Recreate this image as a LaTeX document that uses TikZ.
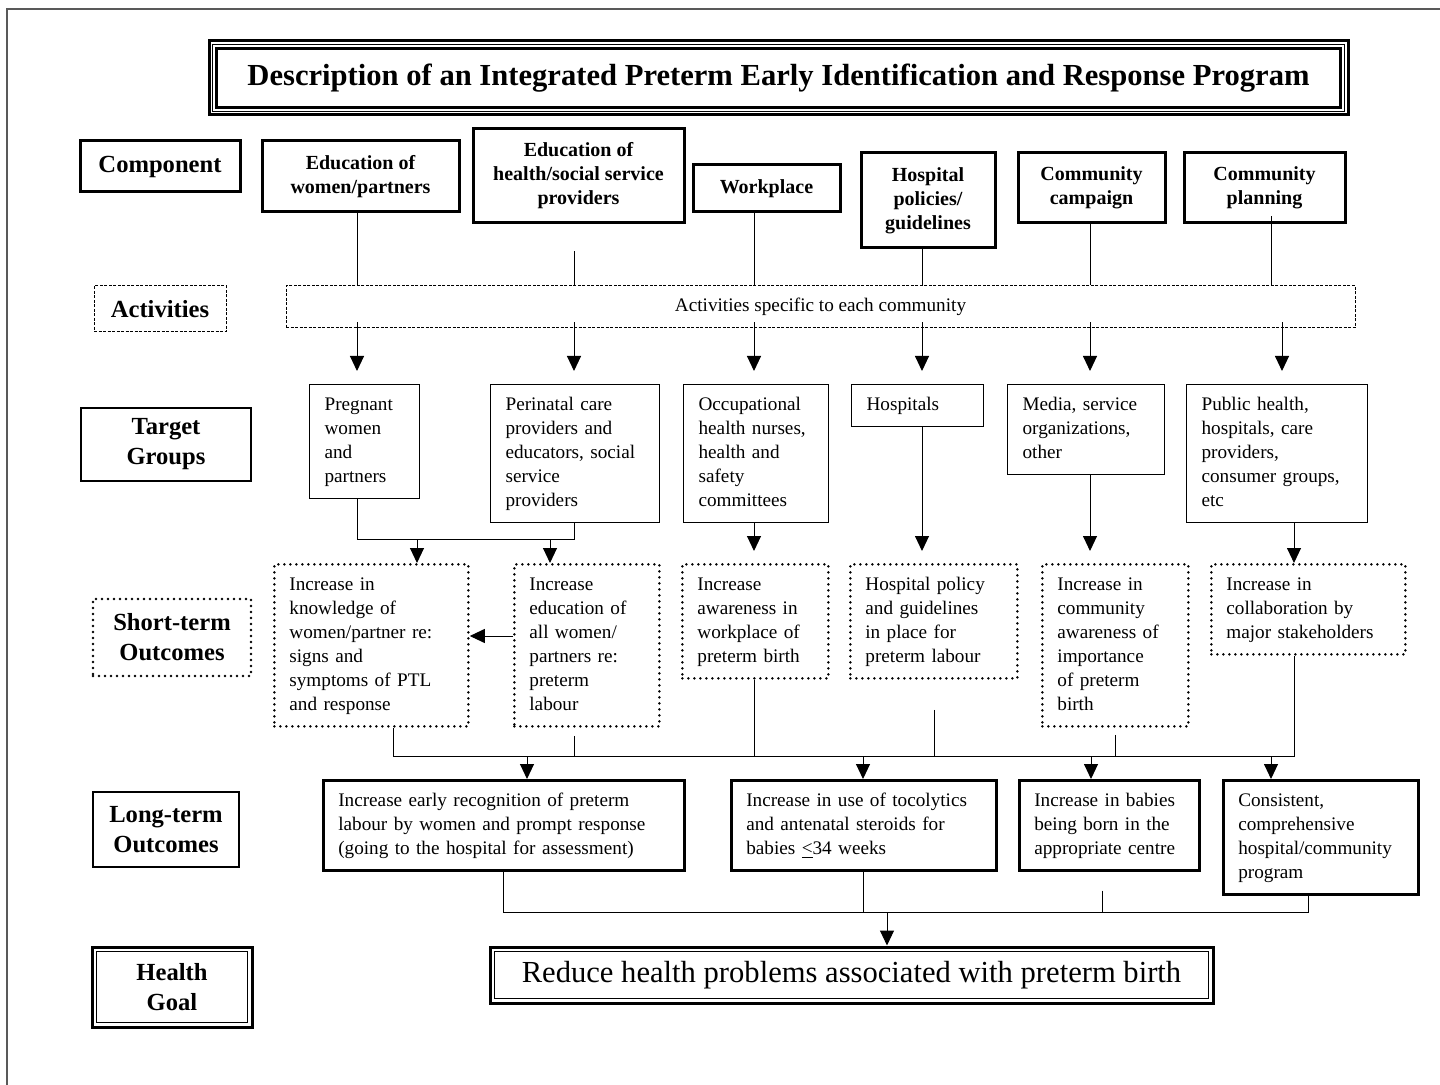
\documentclass[tikz,border=0pt]{standalone}
\usepackage{fontspec}
\setmainfont{Liberation Serif}
\usetikzlibrary{arrows.meta}
\tikzset{comp/.style = {draw, line width=1.5pt, align=center, inner sep=0pt,
                        font=\fontsize{10}{12}\selectfont\bfseries}}
\tikzset{rowlbl/.style = {draw, align=center, inner sep=0pt,
                          font=\fontsize{12.3}{15}\selectfont\bfseries}}
\tikzset{grp/.style = {draw, line width=0.6pt, anchor=north west, align=left,
                       inner xsep=7.5pt, inner ysep=4.5pt, text width=#1,
                       font=\fontsize{9.6}{12}\selectfont,
                       execute at begin node=\strut, execute at end node=\strut}}
\tikzset{dotline/.style = {line width=1.4pt, dash pattern=on 0pt off 3pt, line cap=round}}
\tikzset{dashbox/.style = {line width=0.5pt, dash pattern=on 1.5pt off 0.75pt}}
\tikzset{stbox/.style = {grp=#1, dotline}}
\tikzset{ltbox/.style = {grp=#1, line width=1.3pt}}
\tikzset{link/.style = {line width=0.5pt}}
\tikzset{arr/.style = {line width=0.5pt, -{Triangle[length=7.5pt,width=7pt]}}}
\tikzset{dblline/.style = {draw, line width=1.5pt, path picture={
    \draw[line width=0.6pt] ([shift={(2.3pt,-2.3pt)}]path picture bounding box.north west)
      rectangle ([shift={(-2.3pt,2.3pt)}]path picture bounding box.south east);}}}
\tikzset{tripleline/.style = {draw, line width=1.5pt, path picture={
    \draw[line width=0.5pt] ([shift={(1.9pt,-1.9pt)}]path picture bounding box.north west)
      rectangle ([shift={(-1.9pt,1.9pt)}]path picture bounding box.south east);
    \draw[line width=1.5pt] ([shift={(3.9pt,-3.9pt)}]path picture bounding box.north west)
      rectangle ([shift={(-3.9pt,3.9pt)}]path picture bounding box.south east);}}}

\begin{document}
\begin{tikzpicture}[x=0.5pt, y=-0.5pt]
    \useasboundingbox (0,0) rectangle (1440,1085);
    \draw[black!65, line width=1pt] (1440,9) -- (7,9) -- (7,1085);

    \node[tripleline, minimum width=569.5pt, minimum height=37pt,
          font=\fontsize{15.3}{18}\selectfont\bfseries] (title) at (778.5,78)
          {Description of an Integrated Preterm Early Identification and Response Program};

    % row labels
    \node[rowlbl, line width=1.5pt, minimum width=80pt, minimum height=25.5pt] (lcomp) at (160,166.5) {Component};
    \node[rowlbl, dashbox, minimum width=66pt, minimum height=23pt] (lact) at (160,309) {Activities};
    \node[rowlbl, line width=0.6pt, minimum width=85pt, minimum height=36.5pt] (ltarget) at (166,444.5) {Target\\Groups};
    \node[rowlbl, dotline, minimum width=79pt, minimum height=38.5pt] (lshort) at (172,637.5) {Short-term\\Outcomes};
    \node[rowlbl, line width=0.6pt, minimum width=73pt, minimum height=37.5pt] (llong) at (166,829.5) {Long-term\\Outcomes};
    \node[rowlbl, dblline, minimum width=80pt, minimum height=40pt] (lgoal) at (172,987) {Health\\Goal};

    % components
    \node[comp, minimum width=98.5pt, minimum height=35.5pt] (c1) at (360.5,176.5) {Education of\\women/partners};
    \node[comp, minimum width=105.5pt, minimum height=47pt] (c2) at (578.5,176) {Education of\\health/social service\\providers};
    \node[comp, minimum width=73.5pt, minimum height=23.5pt] (c3) at (766.5,188.5) {Workplace};
    \node[comp, minimum width=67pt, minimum height=47.5pt] (c4) at (928,200.5) {Hospital\\policies/\\guidelines};
    \node[comp, minimum width=73.5pt, minimum height=35pt] (c5) at (1091.5,188) {Community\\campaign};
    \node[comp, minimum width=80.5pt, minimum height=35pt] (c6) at (1264.5,188) {Community\\planning};

    \node[draw, dashbox, minimum width=534.5pt, minimum height=21pt,
          font=\fontsize{9.6}{12}\selectfont] (acts) at (820.5,307) {Activities specific to each community};

    % target groups
    \node[grp=40pt] (tg1) at (309,384) {Pregnant\\women\\and\\partners};
    \node[grp=69.5pt] (tg2) at (490,384) {Perinatal care\\providers and\\educators, social\\service\\providers};
    \node[grp=57.5pt] (tg3) at (683,384) {Occupational\\health nurses,\\health and\\safety\\committees};
    \node[grp=51pt] (tg4) at (851,384) {Hospitals};
    \node[grp=63.5pt] (tg5) at (1007,384) {Media, service\\organizations,\\other};
    \node[grp=75.5pt] (tg6) at (1186,384) {Public health,\\hospitals, care\\providers,\\consumer groups,\\etc};

    % short-term outcomes
    \node[stbox=82pt] (st1) at (273,563) {Increase in\\knowledge of\\women/partner re:\\signs and\\symptoms of PTL\\and response};
    \node[stbox=57.5pt] (st2) at (513,563) {Increase\\education of\\all women/\\partners re:\\preterm\\labour};
    \node[stbox=58pt] (st3) at (681,563) {Increase\\awareness in\\workplace of\\preterm birth};
    \node[stbox=68.5pt] (st4) at (849,563) {Hospital policy\\and guidelines\\in place for\\preterm labour};
    \node[stbox=58pt] (st5) at (1041,563) {Increase in\\community\\awareness of\\importance\\of preterm\\birth};
    \node[stbox=82pt] (st6) at (1210,563) {Increase in\\collaboration by\\major stakeholders};

    % long-term outcomes
    \node[ltbox=165.5pt] (lt1) at (322,779) {Increase early recognition of preterm\\labour by women and prompt response\\(going to the hospital for assessment)};
    \node[ltbox=117.5pt] (lt2) at (730,779) {Increase in use of tocolytics\\and antenatal steroids for\\babies \underline{<}34 weeks};
    \node[ltbox=75pt] (lt3) at (1018,779) {Increase in babies\\being born in the\\appropriate centre};
    \node[ltbox=82.5pt] (lt4) at (1222,779) {Consistent,\\comprehensive\\hospital/community\\program};

    \node[dblline, minimum width=361.5pt, minimum height=28pt,
          font=\fontsize{15.3}{18}\selectfont] (goal) at (851.5,975)
          {Reduce health problems associated with preterm birth};

    \coordinate (jtg) at (0,539);
    \coordinate (jst) at (0,756);
    \coordinate (jlt) at (0,912);

    % components to activities
    \foreach \n/\x in {c1/357, c3/754, c4/922, c5/1090}
      \draw[link] (\n.south -| \x,0) -- (acts.north -| \x,0);
    \draw[link, shorten <=13.5pt] (c2.south -| 574,0) -- (acts.north -| 574,0);
    \draw[link, shorten <=-4pt] (c6.south -| 1271,0) -- (acts.north -| 1271,0);

    % activities to target groups
    \foreach \n/\x in {tg1/357, tg2/574, tg3/754, tg4/922, tg5/1090, tg6/1282}
      \draw[arr, shorten <=-3pt, shorten >=6.5pt] (acts.south -| \x,0) -- (\n.north -| \x,0);

    % target groups to short-term
    \draw[link] (tg1.south -| 357,0) |- (jtg -| 574,0) -- (tg2.south -| 574,0);
    \draw[arr] (jtg -| 417,0) -- (st1.north -| 417,0);
    \draw[arr] (jtg -| 550,0) -- (st2.north -| 550,0);
    \foreach \a/\b/\x in {tg3/st3/754, tg4/st4/922, tg5/st5/1090}
      \draw[arr, shorten >=6pt] (\a.south -| \x,0) -- (\b.north -| \x,0);
    \draw[arr] (tg6.south -| 1294,0) -- (st6.north -| 1294,0);
    \draw[arr] (st2.west |- 0,636) -- (st1.east |- 0,636);

    % short-term to long-term
    \draw[link] (st1.south -| 393,0) |- (jst -| 1294,0) -- (st6.south -| 1294,0);
    \draw[link, shorten <=4pt] (st2.south -| 574,0) -- (jst -| 574,0);
    \draw[link] (st3.south -| 754,0) -- (jst -| 754,0);
    \draw[link, shorten <=15pt] (st4.south -| 934,0) -- (jst -| 934,0);
    \draw[link, shorten <=3.5pt] (st5.south -| 1115,0) -- (jst -| 1115,0);
    \foreach \n/\x in {lt1/527, lt2/863, lt3/1091, lt4/1271}
      \draw[arr] (jst -| \x,0) -- (\n.north -| \x,0);

    % long-term to goal
    \draw[link] (lt1.south -| 503,0) |- (jlt -| 1308,0) -- (lt4.south -| 1308,0);
    \draw[link] (lt2.south -| 863,0) -- (jlt -| 863,0);
    \draw[link, shorten <=9.5pt] (lt3.south -| 1102,0) -- (jlt -| 1102,0);
    \draw[arr] (jlt -| 887,0) -- (goal.north -| 887,0);
\end{tikzpicture}
\end{document}
